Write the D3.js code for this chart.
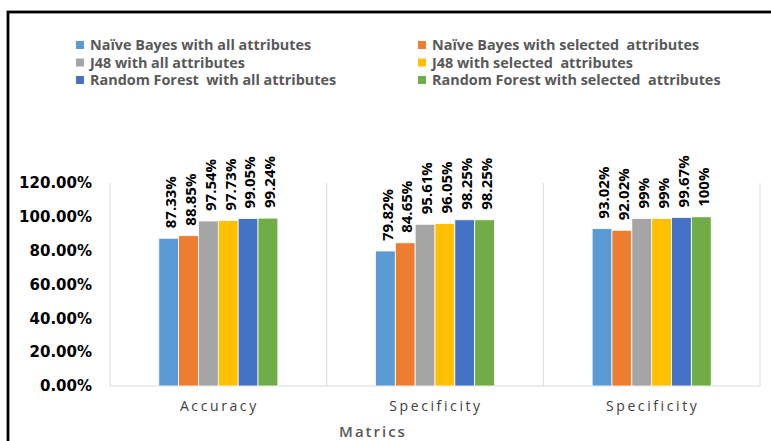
<!DOCTYPE html>
<html>
<head>
<meta charset="utf-8">
<script src="https://cdn.jsdelivr.net/npm/d3@7"></script>
<style>
  html, body { margin: 0; padding: 0; background: #fff; }
  svg { display: block; }
</style>
</head>
<body>
<svg id="chart" width="771" height="441"></svg>
<script>
// Metric groups along the x axis
const categories = ["Accuracy", "Specificity", "Specificity"];

// Classifier / attribute-set combinations
const seriesNames = [
  "Naïve Bayes with all attributes",
  "Naïve Bayes with selected  attributes",
  "J48 with all attributes",
  "J48 with selected  attributes",
  "Random Forest  with all attributes",
  "Random Forest with selected  attributes"
];

const seriesColors = ["#5B9BD5", "#ED7D31", "#A5A5A5", "#FFC000", "#4472C4", "#70AD47"];

// Percent values per series, one per metric group
const naiveBayesAll      = [87.33, 79.82, 93.02];
const naiveBayesSelected = [88.85, 84.65, 92.02];
const j48All             = [97.54, 95.61, 99];
const j48Selected        = [97.73, 96.05, 99];
const randomForestAll    = [99.05, 98.25, 99.67];
const randomForestSel    = [99.24, 98.25, 100];

const seriesValues = [naiveBayesAll, naiveBayesSelected, j48All, j48Selected, randomForestAll, randomForestSel];

const yTicks = [0, 0.2, 0.4, 0.6, 0.8, 1.0, 1.2];
const xTitle = "Matrics";

const svg = d3.select("#chart");

// Outer frame (only top and left edges fall inside the view)
svg.append("rect")
  .attr("x", 8).attr("y", 12)
  .attr("width", 900).attr("height", 600)
  .attr("fill", "none")
  .attr("stroke", "#000")
  .attr("stroke-width", 2.8);

const plot = { left: 110, right: 760, top: 183, bottom: 386 };

const x0 = d3.scaleBand()
  .domain(d3.range(categories.length))
  .range([plot.left, plot.right])
  .paddingInner(0).paddingOuter(0);

const x1 = d3.scaleBand()
  .domain(d3.range(seriesNames.length))
  .range([0, x0.bandwidth()])
  .paddingInner(0)
  .paddingOuter(2.46);

const y = d3.scaleLinear()
  .domain([0, 1.2])
  .range([plot.bottom, plot.top]);

// Category separators
const sepPositions = d3.range(categories.length + 1).map(i =>
  i < categories.length ? x0(i) : x0(categories.length - 1) + x0.bandwidth());
svg.append("g").selectAll("line")
  .data(sepPositions)
  .join("line")
  .attr("x1", d => d).attr("x2", d => d)
  .attr("y1", plot.top).attr("y2", plot.bottom)
  .attr("stroke", "#d9d9d9").attr("stroke-width", 1);

// Baseline
svg.append("line")
  .attr("x1", plot.left).attr("x2", plot.right)
  .attr("y1", plot.bottom).attr("y2", plot.bottom)
  .attr("stroke", "#d9d9d9").attr("stroke-width", 1);

// Y axis labels
const yAxis = d3.axisLeft(y)
  .tickValues(yTicks)
  .tickFormat(d3.format(".2%"))
  .tickSize(0)
  .tickPadding(0);
const yg = svg.append("g")
  .attr("transform", `translate(92,0)`)
  .call(yAxis);
yg.select(".domain").remove();
yg.selectAll("text")
  .attr("font-family", "DejaVu Sans")
  .attr("font-weight", "bold")
  .attr("font-size", 15)
  .attr("fill", "#000");

// X axis category labels
const xAxis = d3.axisBottom(x0)
  .tickFormat(i => categories[i])
  .tickSize(0)
  .tickPadding(0);
const xg = svg.append("g")
  .attr("transform", `translate(1,${plot.bottom + 15})`)
  .call(xAxis);
xg.select(".domain").remove();
xg.selectAll("text")
  .attr("font-family", "Open Sans")
  .attr("font-size", 14)
  .attr("letter-spacing", 2.6)
  .attr("fill", "#404040");

// X axis title
svg.append("text")
  .attr("x", 373).attr("y", 437)
  .attr("text-anchor", "middle")
  .attr("font-family", "Open Sans")
  .attr("font-size", 15)
  .attr("font-weight", 600)
  .attr("letter-spacing", 2)
  .attr("fill", "#595959")
  .text(xTitle);

// Bars
const fmt = v => (v % 1 === 0 ? v + "%" : v.toFixed(2) + "%");
const groups = svg.append("g").selectAll("g")
  .data(categories.map((c, ci) => seriesValues.map((vals, si) => ({ ci, si, v: vals[ci] }))))
  .join("g")
  .attr("transform", (d, i) => `translate(${x0(i)},0)`);

groups.selectAll("rect")
  .data(d => d)
  .join("rect")
  .attr("x", d => x1(d.si))
  .attr("width", x1.bandwidth())
  .attr("y", d => y(d.v / 100))
  .attr("height", d => y(0) - y(d.v / 100))
  .attr("fill", d => seriesColors[d.si])
  .attr("stroke", "#fff")
  .attr("stroke-width", 0.8);

// Rotated value labels
groups.selectAll("text")
  .data(d => d)
  .join("text")
  .attr("transform", d => `translate(${x1(d.si) + x1.bandwidth() / 2 + 2},${y(d.v / 100) - 10}) rotate(-90)`)
  .attr("dy", "0.35em")
  .attr("font-family", "Open Sans")
  .attr("font-weight", "bold")
  .attr("font-size", 15)
  .attr("fill", "#000")
  .text(d => fmt(d.v));

// Legend: two columns, three rows
const legend = svg.append("g").selectAll("g")
  .data(seriesNames)
  .join("g")
  .attr("transform", (d, i) => `translate(${i % 2 === 0 ? 76 : 418},${45 + Math.floor(i / 2) * 17.5})`);

legend.append("rect")
  .attr("x", 0).attr("y", -4)
  .attr("width", 8).attr("height", 8)
  .attr("fill", (d, i) => seriesColors[i]);

legend.append("text")
  .attr("x", 14).attr("y", 0)
  .attr("dy", "0.35em")
  .attr("font-family", "Open Sans")
  .attr("font-weight", "bold")
  .attr("font-size", 14.4)
  .attr("fill", "#595959")
  .style("white-space", "pre")
  .text(d => d);
</script>
</body>
</html>
